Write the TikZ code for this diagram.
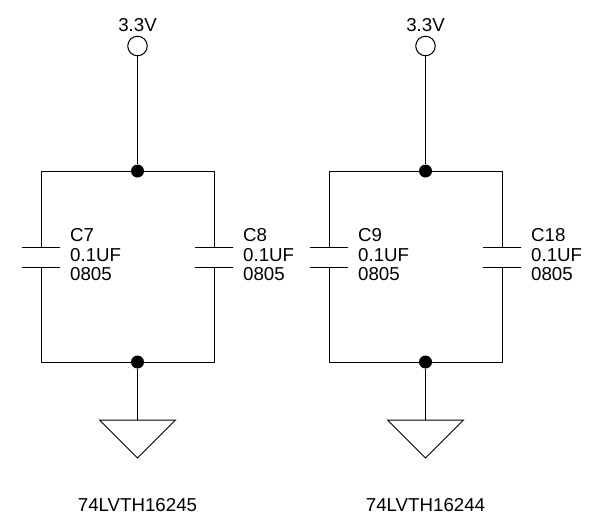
\documentclass[tikz,border=0pt]{standalone}
\usepackage{fontspec}
\setmainfont{Liberation Sans}
\usetikzlibrary{positioning}

\tikzset{
    wire/.style={line width=1pt},
    junction/.style={circle,fill=black,inner sep=0pt,minimum size=13pt},
    pin/.style={circle,draw,line width=1pt,inner sep=0pt,minimum size=19.5pt},
    plate/.style={draw,line width=1pt,rectangle,inner sep=0pt,minimum width=38pt,minimum height=0pt},
    capval/.style={on grid=false,align=left,inner sep=0pt,yshift=2.5pt,font=\fontsize{18.7}{19.5}\selectfont},
    netname/.style={inner sep=0pt,font=\fontsize{18.7}{20}\selectfont}
}

\begin{document}
\begin{tikzpicture}[x=1pt,y=1pt,on grid]
    \useasboundingbox (0,0) rectangle (592,-523);

    % first group
    \node[junction]        (jt1)                    at (137.5,-171) {};
    \node[junction]        (jb1) [below=191pt of jt1] {};
    \node[pin]             (vcc1) [above=125pt of jt1] {};
    \node[netname]         (vname1) [above=20.5pt of vcc1] {3.3V};
    \coordinate[below left=86.5pt and 96.5pt of jt1]   (c7);
    \coordinate[below right=86.5pt and 76.5pt of jt1]  (c8);
    \node[plate]           (c7t) [above=9.5pt of c7] {};
    \node[plate]           (c7b) [below=9.5pt of c7] {};
    \node[plate]           (c8t) [above=9.5pt of c8] {};
    \node[plate]           (c8b) [below=9.5pt of c8] {};
    \node[capval]          (c7val) [right=29pt of c7] {C7\\0.1UF\\0805};
    \node[capval]          (c8val) [right=29pt of c8] {C8\\0.1UF\\0805};
    \coordinate[below=58pt of jb1]                     (gnd1);
    \node[netname]         (part1) [below=78pt of gnd1] {74LVTH16245};

    % second group
    \node[junction]        (jt2) [right=288pt of jt1] {};
    \node[junction]        (jb2) [below=191pt of jt2] {};
    \node[pin]             (vcc2) [above=125pt of jt2] {};
    \node[netname]         (vname2) [above=20.5pt of vcc2] {3.3V};
    \coordinate[below left=86.5pt and 96.5pt of jt2]   (c9);
    \coordinate[below right=86.5pt and 76.5pt of jt2]  (c18);
    \node[plate]           (c9t) [above=9.5pt of c9] {};
    \node[plate]           (c9b) [below=9.5pt of c9] {};
    \node[plate]           (c18t) [above=9.5pt of c18] {};
    \node[plate]           (c18b) [below=9.5pt of c18] {};
    \node[capval]          (c9val) [right=29pt of c9] {C9\\0.1UF\\0805};
    \node[capval]          (c18val) [right=29pt of c18] {C18\\0.1UF\\0805};
    \coordinate[below=58pt of jb2]                     (gnd2);
    \node[netname]         (part2) [below=78pt of gnd2] {74LVTH16244};

    \draw[wire] (vcc1) -- (jt1);
    \draw[wire] (jt1) -| (c7t);
    \draw[wire] (jt1) -| (c8t);
    \draw[wire] (c7b) |- (jb1);
    \draw[wire] (c8b) |- (jb1);
    \draw[wire] (jb1) -- (gnd1);
    \draw[wire] (gnd1) +(-38,0) -- +(38,0) -- +(0,-38) -- cycle;

    \draw[wire] (vcc2) -- (jt2);
    \draw[wire] (jt2) -| (c9t);
    \draw[wire] (jt2) -| (c18t);
    \draw[wire] (c9b) |- (jb2);
    \draw[wire] (c18b) |- (jb2);
    \draw[wire] (jb2) -- (gnd2);
    \draw[wire] (gnd2) +(-38,0) -- +(38,0) -- +(0,-38) -- cycle;
\end{tikzpicture}
\end{document}
